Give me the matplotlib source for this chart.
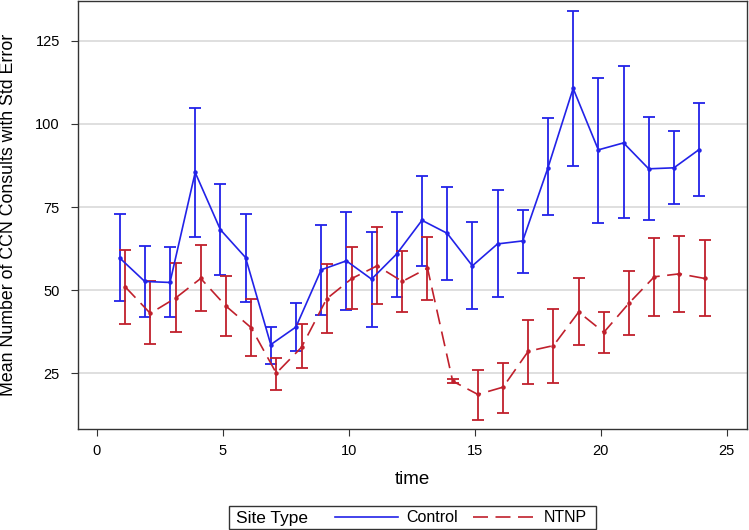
import numpy as np
import matplotlib
matplotlib.use("Agg")
import matplotlib.pyplot as plt
from matplotlib.patches import Rectangle
from matplotlib.lines import Line2D

plt.rcParams['font.family'] = ['Liberation Sans', 'DejaVu Sans']

# valores
tempo = np.arange(1, 25)

control_media = [59.7, 52.6, 52.3, 85.4, 68.2, 59.8, 33.6, 38.9, 56.1, 58.8, 53.3, 60.9,
                 71.0, 67.1, 57.3, 63.9, 64.8, 86.8, 110.7, 92.2, 94.3, 86.5, 86.8, 92.3]
control_sup = [72.9, 63.2, 62.9, 104.8, 81.8, 73.0, 38.8, 46.1, 69.7, 73.5, 67.4, 73.6,
               84.4, 80.9, 70.5, 80.1, 74.2, 101.7, 134.1, 113.9, 117.3, 102.0, 97.8, 106.3]
control_inf = [46.6, 41.8, 41.8, 66.1, 54.6, 46.4, 27.8, 31.8, 42.4, 43.9, 38.9, 48.0,
               57.3, 53.0, 44.2, 47.8, 55.0, 72.7, 87.4, 70.3, 71.6, 71.1, 75.9, 78.2]

ntnp_media = [51.0, 43.0, 47.6, 53.5, 45.2, 38.7, 25.0, 32.8, 47.4, 53.5, 57.3, 52.6,
              56.6, 22.6, 18.6, 20.8, 31.6, 33.3, 43.4, 37.3, 46.1, 54.0, 54.9, 53.5]
ntnp_sup = [62.0, 52.6, 58.3, 63.5, 54.2, 47.4, 29.7, 39.8, 57.8, 63.1, 69.0, 61.8,
            66.1, 23.2, 26.0, 28.0, 40.9, 44.2, 53.5, 43.5, 55.7, 65.7, 66.4, 65.0]
ntnp_inf = [39.8, 33.7, 37.3, 43.6, 36.1, 30.1, 19.8, 26.6, 37.0, 44.2, 45.8, 43.3,
            47.0, 22.1, 11.0, 13.0, 21.7, 22.0, 33.6, 31.0, 36.5, 42.1, 43.5, 42.1]

azul = '#2222e8'
vermelho = '#c0202c'

fig = plt.figure(figsize=(7.49, 5.30), dpi=100)
ax = fig.add_axes([78 / 749, 1 - 429 / 530, 669 / 749, 428 / 530])

ax.errorbar(tempo - 0.1, control_media,
            yerr=[np.array(control_media) - np.array(control_inf),
                  np.array(control_sup) - np.array(control_media)],
            color=azul, linewidth=1.2, marker='o', markersize=2.2,
            capsize=4.6, elinewidth=1.3, capthick=1.3)
eb = ax.errorbar(tempo + 0.12, ntnp_media,
                 yerr=[np.array(ntnp_media) - np.array(ntnp_inf),
                       np.array(ntnp_sup) - np.array(ntnp_media)],
                 color=vermelho, linewidth=1.2, marker='o', markersize=2.2,
                 capsize=4.6, elinewidth=1.3, capthick=1.3)
eb[0].set_dashes((9, 4.5))

ax.set_xlim(-0.75, 25.8)
ax.set_ylim(8.2, 137)
ax.set_xticks([0, 5, 10, 15, 20, 25])
ax.set_yticks([25, 50, 75, 100, 125])
ax.yaxis.grid(True, color='#d9d9d9', linewidth=1.2)
ax.set_axisbelow(True)
ax.tick_params(labelsize=10.5, length=5, color='#333333')
ax.tick_params(axis='y', pad=8)
ax.tick_params(axis='x', pad=6)
for s in ax.spines.values():
    s.set_color('#333333')
    s.set_linewidth(1.0)

ax.set_xlabel('time', fontsize=13.5)
ax.set_ylabel('Mean Number of CCN Consults with Std Error', fontsize=12.8)
ax.xaxis.set_label_coords(0.5, (429 - 471) / 428)
ax.yaxis.set_label_coords((17 - 78) / 669, 0.5)

# legenda no rodape
fig.patches.append(Rectangle((229 / 749, 1 / 530), 367 / 749, 23.5 / 530,
                             transform=fig.transFigure, fill=False,
                             edgecolor='#333333', linewidth=1.0))
fig.text(236 / 749, 1 - 518 / 530, 'Site Type', fontsize=12.5, va='center', ha='left')
handles = [Line2D([], [], color=azul, linewidth=1.2),
           Line2D([], [], color=vermelho, linewidth=1.2, dashes=(9, 4.5))]
fig.legend(handles, ['Control', 'NTNP'], loc='center left',
           bbox_to_anchor=(335 / 749, 1 - 518 / 530), ncol=2, frameon=False,
           fontsize=11.5, handlelength=3.95, handletextpad=0.5,
           columnspacing=0.94, borderpad=0, borderaxespad=0)

fig.savefig('out.png', dpi=100)
